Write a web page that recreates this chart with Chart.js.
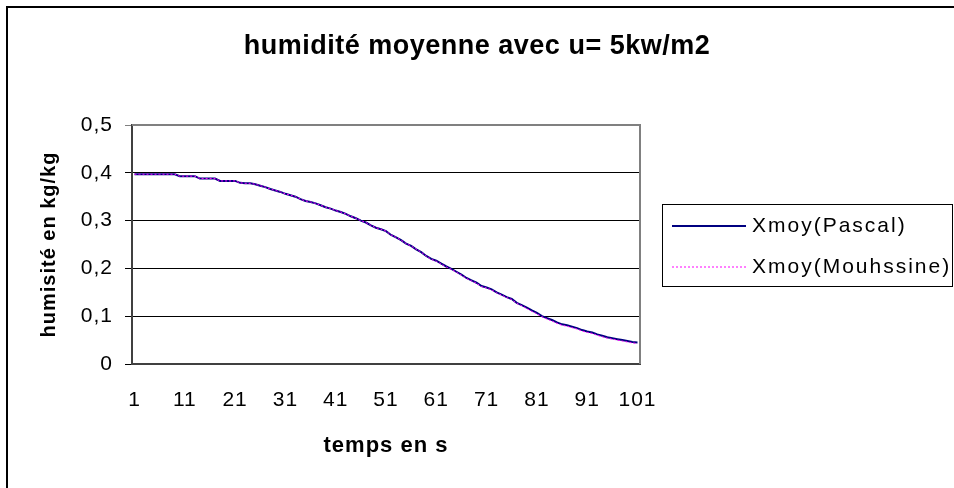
<!DOCTYPE html>
<html>
<head>
<meta charset="utf-8">
<script src="https://cdn.jsdelivr.net/npm/chart.js@4/dist/chart.umd.min.js"></script>
<style>
html,body{margin:0;padding:0;background:#fff;}
#wrap{width:954px;height:488px;position:relative;}
</style>
</head>
<body>
<div id="wrap"><canvas id="c" width="954" height="488"></canvas></div>
<script>
const chartTitle = 'humidité moyenne avec u= 5kw/m2';
const xAxisTitle = 'temps en s';
const yAxisTitle = 'humisité en kg/kg';
const seriesNames = ['Xmoy(Pascal)', 'Xmoy(Mouhssine)'];

const timeSteps = [1,2,3,4,5,6,7,8,9,10,11,12,13,14,15,16,17,18,19,20,
  21,22,23,24,25,26,27,28,29,30,31,32,33,34,35,36,37,38,39,40,
  41,42,43,44,45,46,47,48,49,50,51,52,53,54,55,56,57,58,59,60,
  61,62,63,64,65,66,67,68,69,70,71,72,73,74,75,76,77,78,79,80,
  81,82,83,84,85,86,87,88,89,90,91,92,93,94,95,96,97,98,99,100,101];

const xTickLabels = ['1','11','21','31','41','51','61','71','81','91','101'];
const yTickLabels = ['0','0,1','0,2','0,3','0,4','0,5'];

const xmoyPascal = [
  0.397,0.397,0.397,0.397,0.397,0.397,0.397,0.397,0.397,0.393,
  0.393,0.393,0.393,0.388,0.388,0.388,0.388,0.383,0.383,0.383,
  0.383,0.379,0.378,0.378,0.376,0.373,0.370,0.366,0.363,0.360,
  0.356,0.353,0.350,0.345,0.341,0.339,0.336,0.332,0.328,0.325,
  0.321,0.318,0.314,0.309,0.305,0.300,0.296,0.290,0.285,0.282,
  0.278,0.270,0.265,0.259,0.252,0.247,0.240,0.234,0.226,0.220,
  0.216,0.210,0.204,0.199,0.193,0.187,0.180,0.175,0.170,0.163,
  0.160,0.156,0.150,0.145,0.140,0.136,0.128,0.123,0.118,0.112,
  0.107,0.100,0.096,0.092,0.087,0.083,0.081,0.078,0.075,0.071,
  0.068,0.066,0.062,0.059,0.056,0.054,0.052,0.050,0.048,0.046,
  0.045];

const xmoyMouhssine = [
  0.397,0.397,0.397,0.397,0.397,0.397,0.397,0.397,0.397,0.393,
  0.393,0.393,0.393,0.388,0.388,0.388,0.388,0.383,0.383,0.383,
  0.383,0.379,0.378,0.378,0.376,0.373,0.370,0.366,0.363,0.360,
  0.356,0.353,0.350,0.345,0.341,0.339,0.336,0.332,0.328,0.325,
  0.321,0.318,0.314,0.309,0.305,0.300,0.296,0.290,0.285,0.282,
  0.278,0.270,0.265,0.259,0.252,0.247,0.240,0.234,0.226,0.219,
  0.215,0.209,0.203,0.198,0.192,0.186,0.179,0.174,0.169,0.162,
  0.159,0.155,0.149,0.144,0.139,0.135,0.127,0.122,0.116,0.110,
  0.105,0.099,0.094,0.090,0.085,0.081,0.079,0.076,0.073,0.069,
  0.066,0.064,0.060,0.057,0.054,0.052,0.050,0.048,0.046,0.044,
  0.043];

const FONT = 'Liberation Sans, Arial, sans-serif';

const decorPlugin = {
  id: 'decor',
  beforeDraw(chart) {
    chart.ctx.letterSpacing = '1px';
  },
  afterDraw(chart) {
    const ctx = chart.ctx;
    const a = chart.chartArea;
    ctx.save();
    ctx.strokeStyle = '#000';
    ctx.lineWidth = 2;
    ctx.beginPath();
    ctx.moveTo(7, 488); ctx.lineTo(7, 7); ctx.lineTo(954, 7);
    ctx.stroke();
    ctx.strokeStyle = '#808080';
    ctx.lineWidth = 2;
    ctx.beginPath();
    ctx.moveTo(a.left, a.top); ctx.lineTo(a.right, a.top); ctx.lineTo(a.right, a.bottom);
    ctx.stroke();
    ctx.letterSpacing = '0.5px';
    ctx.fillStyle = '#000';
    ctx.font = 'bold 27px ' + FONT;
    ctx.textAlign = 'center';
    ctx.textBaseline = 'middle';
    ctx.fillText(chartTitle, 477, 47);
    const lx = a.right + 22, ly = 204, lw = 290, lh = 82;
    ctx.strokeStyle = '#000';
    ctx.lineWidth = 1;
    ctx.strokeRect(lx + 0.5, ly + 0.5, lw, lh);
    const rows = [ly + 22, ly + 63];
    const legendOrder = [0, 1];
    legendOrder.forEach((i, r) => {
      const ds = chart.data.datasets[i];
      const y = rows[r];
      ctx.strokeStyle = ds.borderColor;
      ctx.lineWidth = ds.borderWidth;
      ctx.setLineDash(ds.borderDash || []);
      ctx.beginPath();
      ctx.moveTo(lx + 10, y); ctx.lineTo(lx + 84, y);
      ctx.stroke();
      ctx.setLineDash([]);
      ctx.letterSpacing = '2px';
      ctx.fillStyle = '#000';
      ctx.font = '21px ' + FONT;
      ctx.textAlign = 'left';
      ctx.textBaseline = 'middle';
      ctx.fillText(ds.label, lx + 90, y);
    });
    ctx.restore();
  }
};

new Chart(document.getElementById('c'), {
  type: 'line',
  data: {
    labels: timeSteps.map(String),
    datasets: [
      { label: seriesNames[0], data: xmoyPascal, borderColor: '#000080', borderWidth: 2,
        pointRadius: 0, tension: 0, fill: false, order: 1 },
      { label: seriesNames[1], data: xmoyMouhssine, borderColor: '#FF00FF', borderWidth: 1,
        borderDash: [2, 2], pointRadius: 0, tension: 0, fill: false, order: 0 }
    ]
  },
  options: {
    responsive: false,
    animation: false,
    devicePixelRatio: 1,
    layout: { padding: { top: 125, right: 314, bottom: 24, left: 0 } },
    plugins: { legend: { display: false }, title: { display: false }, tooltip: { enabled: false } },
    scales: {
      x: {
        type: 'category',
        offset: true,
        grid: { display: false, drawTicks: false, tickLength: 0 },
        border: { display: true, color: '#404040', width: 2 },
        ticks: {
          autoSkip: false, maxRotation: 0, minRotation: 0, padding: 24,
          color: '#000', font: { family: FONT, size: 21 },
          callback: function(v, i) {
            const l = this.getLabelForValue(v);
            return xTickLabels.includes(l) ? l : null;
          }
        },
        title: { display: true, text: xAxisTitle, color: '#000',
          font: { family: FONT, size: 22, weight: 'bold' }, padding: { top: 0, bottom: 5 } },
        afterFit: s => { s.height = 100; }
      },
      y: {
        min: 0, max: 0.5,
        grid: {
          color: c => (c.tick && Math.abs(c.tick.value - 0.5) < 1e-6) ? '#808080' : '#000',
          lineWidth: 1, tickLength: 7, drawTicks: true
        },
        border: { display: true, color: '#404040', width: 2 },
        ticks: {
          stepSize: 0.1, padding: 12, color: '#000', font: { family: FONT, size: 21 },
          callback: v => yTickLabels[Math.round(v * 10)]
        },
        title: { display: true, text: yAxisTitle, color: '#000',
          font: { family: FONT, size: 20, weight: 'bold' }, padding: { top: 37, bottom: 0 } },
        afterFit: s => { s.width = 132; }
      }
    }
  },
  plugins: [decorPlugin]
});
</script>
</body>
</html>
